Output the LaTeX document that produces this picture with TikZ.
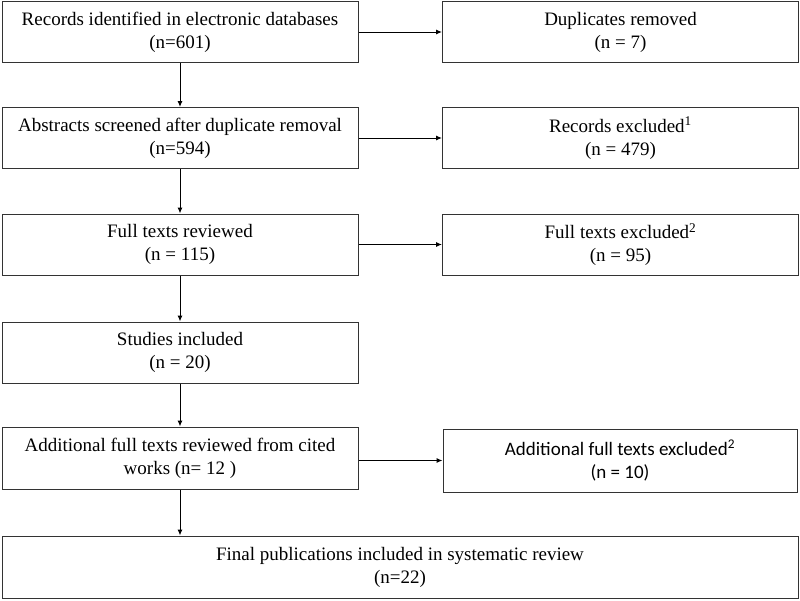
\documentclass[tikz,border=0pt]{standalone}
\usepackage{fontspec}
\setmainfont{Liberation Serif}
\newfontfamily\calfont{Carlito}
\usetikzlibrary{arrows.meta}
\begin{document}
\begin{tikzpicture}[x=1pt,y=-1pt,
  box/.style={draw=black!80, line width=1pt, rectangle, align=center, inner sep=0pt,
    font=\fontsize{19}{23}\selectfont, minimum width=356pt, minimum height=61pt},
  arr/.style={draw=black, line width=1pt, -{Latex[length=6pt,width=5pt]}}]
\useasboundingbox (0,0) rectangle (800,600);
\node[box] (b1) at (180,32) {Records identified in electronic databases\\(n=601)};
\node[box] (b2) at (620.5,32) {Duplicates removed\\(n = 7)};
\node[box] (b3) at (180,138) {Abstracts screened after duplicate removal\\(n=594)};
\node[box] (b4) at (620.5,138) {Records excluded\textsuperscript{1}\\(n = 479)};
\node[box] (b5) at (180,244.5) {Full texts reviewed\\(n = 115)};
\node[box] (b6) at (620.5,244.5) {Full texts excluded\textsuperscript{2}\\(n = 95)};
\node[box] (b7) at (180,352.5) {Studies included\\(n = 20)};
\node[box, minimum height=62pt] (b8) at (180,458) {Additional full texts reviewed from cited\\works (n= 12 )};
\node[box, minimum height=63pt, minimum width=354pt, font=\calfont\fontsize{19}{23}\selectfont] (b9) at (620,460.5) {Additional full texts excluded\textsuperscript{2}\\(n = 10)};
\node[box, minimum width=796pt, minimum height=62pt] (b10) at (400,567) {Final publications included in systematic review\\(n=22)};
\draw[arr] (b1.east) -- (b2.west);
\draw[arr] (b3.east) -- (b4.west);
\draw[arr] (b5.east) -- (b6.west);
\draw[arr] (b8.east |- b9.west) -- (b9.west);
\draw[arr] (b1.south) -- (b3.north);
\draw[arr] (b3.south) -- (b5.north);
\draw[arr] (b5.south) -- (b7.north);
\draw[arr] (b7.south) -- (b8.north);
\draw[arr] (b8.south) -- (b10.north -| b8.south);
\end{tikzpicture}
\end{document}
